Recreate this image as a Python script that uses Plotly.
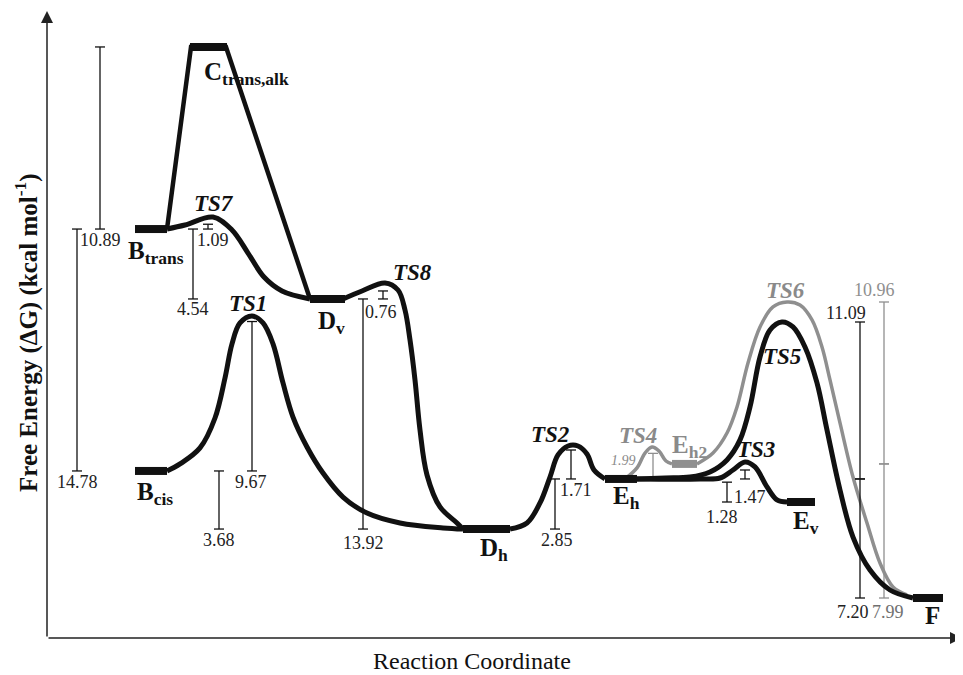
import plotly.graph_objects as go

# ------------------------------------------------------------------ data
# Free-energy levels (diagram units; F = 0)
state_names = ["B_trans", "C_trans,alk", "D_v", "B_cis", "D_h", "E_h", "E_h2", "E_v", "F"]
state_G = [23.06, 34.44, 18.69, 7.94, 4.31, 7.44, 8.38, 6.0, 0.0]
state_text = ["B<sub>trans</sub>", "C<sub>trans,alk</sub>", "D<sub>v</sub>", "B<sub>cis</sub>",
              "D<sub>h</sub>", "E<sub>h</sub>", "E<sub>h2</sub>", "E<sub>v</sub>", "F"]

ts_names = ["TS7", "TS1", "TS8", "TS2", "TS4", "TS3", "TS5", "TS6"]
ts_G = [23.81, 17.63, 19.69, 9.50, 9.44, 8.50, 17.25, 18.50]

# Barriers / reaction energies (kcal/mol) and the two levels each one spans
barrier_values = ["10.89", "14.78", "4.54", "1.09", "9.67", "3.68", "0.76", "13.92", "2.85",
                  "1.71", "1.99", "1.28", "1.47", "11.09", "7.20", "10.96", "7.99"]
barrier_upper = ["C_trans,alk", "B_trans", "B_trans", "TS7", "TS1", "B_cis", "TS8", "D_v", "E_h",
                 "TS2", "TS4", "E_h", "TS3", "TS5", "E_h", "TS6", "E_h2"]
barrier_lower = ["B_trans", "B_cis", "D_v", "B_trans", "B_cis", "D_h", "D_v", "D_h", "D_h",
                 "E_h", "E_h", "E_v", "E_h", "E_h", "F", "E_h2", "F"]

# Pathway profiles: reaction coordinate and G
path_TS7_x = [167, 185, 213, 232, 248, 264, 282, 310]
path_TS7_G = [23.06, 23.31, 23.81, 23.0, 21.56, 20.06, 19.19, 18.69]

path_C_x = [167, 191, 226, 310]
path_C_G = [23.06, 34.44, 34.44, 18.69]

path_TS8_x = [343, 362, 385, 398, 405, 410, 415, 420, 427, 440, 457, 463]
path_TS8_G = [18.69, 19.19, 19.69, 19.25, 18.0, 16.13, 13.63, 10.5, 7.69, 5.69, 4.69, 4.31]

path_TS1_x = [167, 180, 200, 215, 225, 232, 240, 252, 263, 273, 283, 293, 307, 323, 343, 367, 400, 443, 463]
path_TS1_G = [7.94, 8.38, 9.38, 11.25, 13.75, 15.88, 17.19, 17.63, 17.19, 15.88, 13.44, 11.31, 9.44,
              7.81, 6.31, 5.31, 4.69, 4.38, 4.31]

path_TS2_x = [510, 527, 540, 550, 558, 568, 578, 587, 594, 605]
path_TS2_G = [4.31, 4.69, 5.94, 7.56, 8.94, 9.5, 9.5, 9.0, 8.0, 7.44]

path_TS4_x = [625, 637, 645, 652, 659, 666, 672]
path_TS4_G = [7.44, 8.13, 9.06, 9.44, 9.19, 8.56, 8.38]

path_TS6_x = [697, 713, 727, 737, 748, 760, 773, 787, 800, 812, 822, 830, 840, 853, 867, 880, 893, 907]
path_TS6_G = [8.38, 9.06, 10.31, 11.94, 14.69, 16.94, 18.19, 18.5, 18.31, 17.38, 15.69, 13.63, 10.94,
              7.56, 4.69, 2.19, 0.69, 0.19]

path_TS5_x = [637, 665, 690, 710, 727, 740, 750, 760, 770, 782, 793, 805, 817, 827, 840, 853, 870, 890, 913]
path_TS5_G = [7.44, 7.5, 7.56, 7.88, 8.63, 9.88, 11.94, 15.06, 16.75, 17.25, 16.94, 15.69, 13.44,
              10.5, 6.75, 3.81, 1.75, 0.5, 0.0]

path_TS3_x = [637, 700, 720, 733, 745, 755, 767, 777, 787]
path_TS3_G = [7.44, 7.44, 7.5, 8.0, 8.5, 8.19, 6.94, 6.13, 6.0]

# ------------------------------------------------------------------ layout / style
BLACK = "#111111"
GRAY = "#8f8f8f"
SERIF = "Liberation Serif"


def Y(py):
    """convert a picture row to the diagram's energy axis (layout helper)"""
    return (598 - py) / 16.0


G = dict(zip(state_names, state_G))
G.update(dict(zip(ts_names, ts_G)))

level_x = {"B_trans": (135, 167), "C_trans,alk": (190, 227), "D_v": (310, 345), "B_cis": (135, 167),
           "D_h": (463, 510), "E_h": (605, 637), "E_h2": (672, 697), "E_v": (787, 815), "F": (913, 943)}
level_gray = {"E_h2"}

state_label_pos = {"B_trans": (156, 252), "C_trans,alk": (246, 73), "D_v": (331, 322), "B_cis": (155, 493),
                   "D_h": (494, 549), "E_h": (626, 497), "E_h2": (689, 446), "E_v": (806, 522), "F": (932, 615)}
ts_label_pos = {"TS7": (214, 203), "TS1": (248, 303), "TS8": (412, 272), "TS2": (550, 434),
                "TS4": (638, 435), "TS3": (756, 449), "TS5": (782, 356), "TS6": (785, 290)}
ts_gray = {"TS4", "TS6"}

bracket_x = [100, 77, 193, 208, 252, 219, 383, 363, 555, 571, 653, 727, 745, 860, 860, 884, 884]
bracket_inset = [0, 0, 0, 0.45, 0.35, 0, 0.5, 0, 0, 0.25, 0.4, 0.2, 0.5, 0, 0, 0, 0]
bracket_label_pos = [(100, 240), (77, 482), (193, 309), (213, 240), (251, 482), (219, 540), (381, 312),
                     (363, 543), (557, 540), (576, 490), (623, 460), (722, 517), (750, 497), (846, 313),
                     (853, 612), (874, 290), (888, 612)]
bracket_color = [BLACK] * 10 + [GRAY] + [BLACK] * 4 + [GRAY, GRAY]
bracket_label_color = ["#222222"] * 10 + ["#8a8a8a"] + ["#222222"] * 4 + ["#8f8f8f", "#707070"]

fig = go.Figure()

# gray pathway first (underneath)
for px, pg in [(path_TS4_x, path_TS4_G), (path_TS6_x, path_TS6_G)]:
    fig.add_trace(go.Scatter(x=px, y=pg, mode="lines", hoverinfo="skip",
                             line=dict(color=GRAY, width=3.5, shape="spline", smoothing=1.0)))

# brackets
for i, val in enumerate(barrier_values):
    top = G[barrier_upper[i]] - bracket_inset[i]
    bot = G[barrier_lower[i]]
    x = bracket_x[i]
    w = 5
    fig.add_trace(go.Scatter(
        x=[x - w, x + w, None, x, x, None, x - w, x + w],
        y=[top, top, None, top, bot, None, bot, bot],
        mode="lines", hoverinfo="skip",
        line=dict(color=bracket_color[i], width=1.3)))

# black pathways
fig.add_trace(go.Scatter(x=path_C_x, y=path_C_G, mode="lines", hoverinfo="skip",
                         line=dict(color=BLACK, width=4.5)))
for px, pg in [(path_TS7_x, path_TS7_G), (path_TS8_x, path_TS8_G), (path_TS1_x, path_TS1_G),
               (path_TS2_x, path_TS2_G), (path_TS3_x, path_TS3_G), (path_TS5_x, path_TS5_G)]:
    fig.add_trace(go.Scatter(x=px, y=pg, mode="lines", hoverinfo="skip",
                             line=dict(color=BLACK, width=5, shape="spline", smoothing=1.0)))

# level bars
for name, g in zip(state_names, state_G):
    x0, x1 = level_x[name]
    fig.add_trace(go.Scatter(x=[x0, x1], y=[g, g], mode="lines", hoverinfo="skip",
                             line=dict(color=GRAY if name in level_gray else BLACK, width=8)))

ann = []
for name, txt in zip(state_names, state_text):
    lx, ly = state_label_pos[name]
    ann.append(dict(x=lx, y=Y(ly), text="<b>" + txt + "</b>", showarrow=False,
                    font=dict(family=SERIF, size=25, color="#8a8a8a" if name in level_gray else BLACK)))
for name in ts_names:
    lx, ly = ts_label_pos[name]
    ann.append(dict(x=lx, y=Y(ly), text="<b><i>" + name + "</i></b>", showarrow=False,
                    font=dict(family=SERIF, size=23, color="#8a8a8a" if name in ts_gray else BLACK)))
for i, val in enumerate(barrier_values):
    lx, ly = bracket_label_pos[i]
    small = val == "1.99"
    ann.append(dict(x=lx, y=Y(ly), text="<i>" + val + "</i>" if small else val, showarrow=False,
                    font=dict(family=SERIF, size=14 if small else 18, color=bracket_label_color[i])))

# axes with arrow heads
ann.append(dict(x=47, y=Y(11), ax=47, ay=Y(638), xref="x", yref="y", axref="x", ayref="y",
                text="", showarrow=True, arrowhead=2, arrowsize=1.6, arrowwidth=1.5,
                arrowcolor="#222222", standoff=0))
ann.append(dict(x=962, y=Y(638), ax=47, ay=Y(638), xref="x", yref="y", axref="x", ayref="y",
                text="", showarrow=True, arrowhead=2, arrowsize=1.6, arrowwidth=1.5,
                arrowcolor="#222222", standoff=0))

# axis titles
ann.append(dict(x=26, y=Y(333), text="<b>Free Energy (ΔG) (kcal mol<sup>-1</sup>)</b>", showarrow=False,
                textangle=-90, font=dict(family=SERIF, size=25, color=BLACK)))
ann.append(dict(x=472, y=Y(661), text="Reaction Coordinate", showarrow=False,
                font=dict(family=SERIF, size=24, color=BLACK)))

# the page places the plot 8 px in from the top-left corner
fig.update_layout(
    width=955, height=667,
    margin=dict(l=0, r=0, t=0, b=0),
    paper_bgcolor="white", plot_bgcolor="white",
    showlegend=False,
    xaxis=dict(range=[8, 963], visible=False, fixedrange=True),
    yaxis=dict(range=[Y(675), Y(8)], visible=False, fixedrange=True),
    annotations=ann,
)

fig.write_html("out.html")
